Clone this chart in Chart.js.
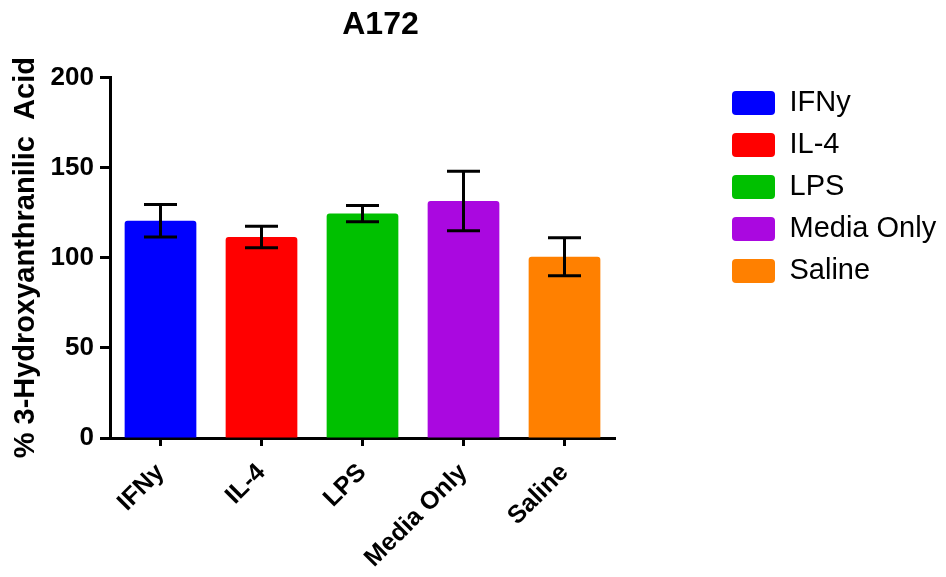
<!DOCTYPE html>
<html>
<head>
<meta charset="utf-8">
<script src="https://cdn.jsdelivr.net/npm/chart.js@4/dist/chart.umd.min.js"></script>
<style>
    html, body { margin: 0; padding: 0; background: #fff; }
    #wrap { width: 946px; height: 577px; position: relative; }
</style>
</head>
<body>
<div id="wrap"><canvas id="barChart"></canvas></div>
<script>
    /* data */
    const labels = ['IFNy', 'IL-4', 'LPS', 'Media Only', 'Saline'];
    const means = [120.5, 111.5, 124.5, 131.5, 100.5];
    const errors = [9, 6, 4.5, 16.5, 10.5];
    const colors = ['#0000ff', '#ff0000', '#00c000', '#aa08e0', '#ff8000'];
    const yTicks = [0, 50, 100, 150, 200];

    Chart.defaults.font.family = "'Liberation Sans', Arial, sans-serif";
    Chart.defaults.color = '#000';

    /* error bars drawn through the y scale */
    const errorBars = {
        id: 'errorBars',
        afterDatasetsDraw(chart) {
            const ctx = chart.ctx;
            const y = chart.scales.y;
            const meta = chart.getDatasetMeta(0);
            ctx.save();
            ctx.strokeStyle = '#000';
            ctx.lineWidth = 3;
            meta.data.forEach((bar, i) => {
                const x = bar.x;
                const top = y.getPixelForValue(means[i] + errors[i]);
                const bot = y.getPixelForValue(means[i] - errors[i]);
                const cap = 16.5;
                ctx.beginPath();
                ctx.moveTo(x, top); ctx.lineTo(x, bot);
                ctx.moveTo(x - cap, top); ctx.lineTo(x + cap, top);
                ctx.moveTo(x - cap, bot); ctx.lineTo(x + cap, bot);
                ctx.stroke();
            });
            ctx.restore();
        }
    };

    /* push the legend away from the plot, nudge the title */
    const legendPlace = {
        id: 'legendPlace',
        beforeInit(chart) {
            const fit = chart.legend.fit;
            chart.legend.fit = function () {
                fit.call(this);
                this.width = 331;
            };
        },
        afterLayout(chart) {
            chart.legend.left += 104;
            chart.legend.top -= 2;
            chart.titleBlock.left += 18;
            chart.titleBlock.right += 18;
        }
    };

    new Chart(document.getElementById('barChart'), {
        type: 'bar',
        data: {
            labels: labels,
            datasets: [{
                data: means,
                backgroundColor: colors,
                borderWidth: 0,
                borderRadius: { topLeft: 3, topRight: 3 },
                borderSkipped: 'bottom',
                barPercentage: 0.71,
                categoryPercentage: 1
            }]
        },
        options: {
            responsive: true,
            maintainAspectRatio: false,
            animation: false,
            layout: { padding: { left: 0, right: 0, top: 0, bottom: 0 } },
            plugins: {
                tooltip: { enabled: false },
                title: {
                    display: true,
                    text: 'A172',
                    fullSize: false,
                    font: { size: 32, weight: 'bold' },
                    padding: { top: 6, bottom: 33 }
                },
                legend: {
                    position: 'right',
                    align: 'start',
                    fullSize: false,
                    labels: {
                        boxWidth: 43,
                        boxHeight: 24,
                        padding: 13,
                        useBorderRadius: true,
                        borderRadius: 4,
                        font: { size: 29 },
                        generateLabels: () => labels.map((l, i) => ({
                            text: l,
                            fillStyle: colors[i],
                            strokeStyle: colors[i],
                            lineWidth: 0,
                            borderRadius: 4,
                            index: i
                        }))
                    }
                }
            },
            scales: {
                x: {
                    grid: {
                        offset: false,
                        drawOnChartArea: false,
                        drawTicks: true,
                        tickLength: 8,
                        tickWidth: 3,
                        tickColor: '#000'
                    },
                    border: { color: '#000', width: 3 },
                    ticks: {
                        minRotation: 45,
                        maxRotation: 45,
                        padding: 12,
                        font: { size: 25, weight: 'bold' }
                    },
                    afterFit(scale) { scale.height = 139; }
                },
                y: {
                    min: 0,
                    max: 200,
                    afterBuildTicks(scale) {
                        scale.ticks = yTicks.map(v => ({ value: v }));
                    },
                    grid: {
                        drawOnChartArea: false,
                        drawTicks: true,
                        tickLength: 10,
                        tickWidth: 3,
                        tickColor: '#000'
                    },
                    border: { color: '#000', width: 3 },
                    ticks: {
                        padding: 6,
                        font: { size: 26, weight: 'bold' }
                    },
                    title: {
                        display: true,
                        text: '% 3-Hydroxyanthranilic  Acid',
                        font: { size: 29, weight: 'bold' },
                        padding: { top: 9, bottom: 0 }
                    },
                    afterFit(scale) { scale.width = 110; }
                }
            }
        },
        plugins: [errorBars, legendPlace]
    });
</script>
</body>
</html>
